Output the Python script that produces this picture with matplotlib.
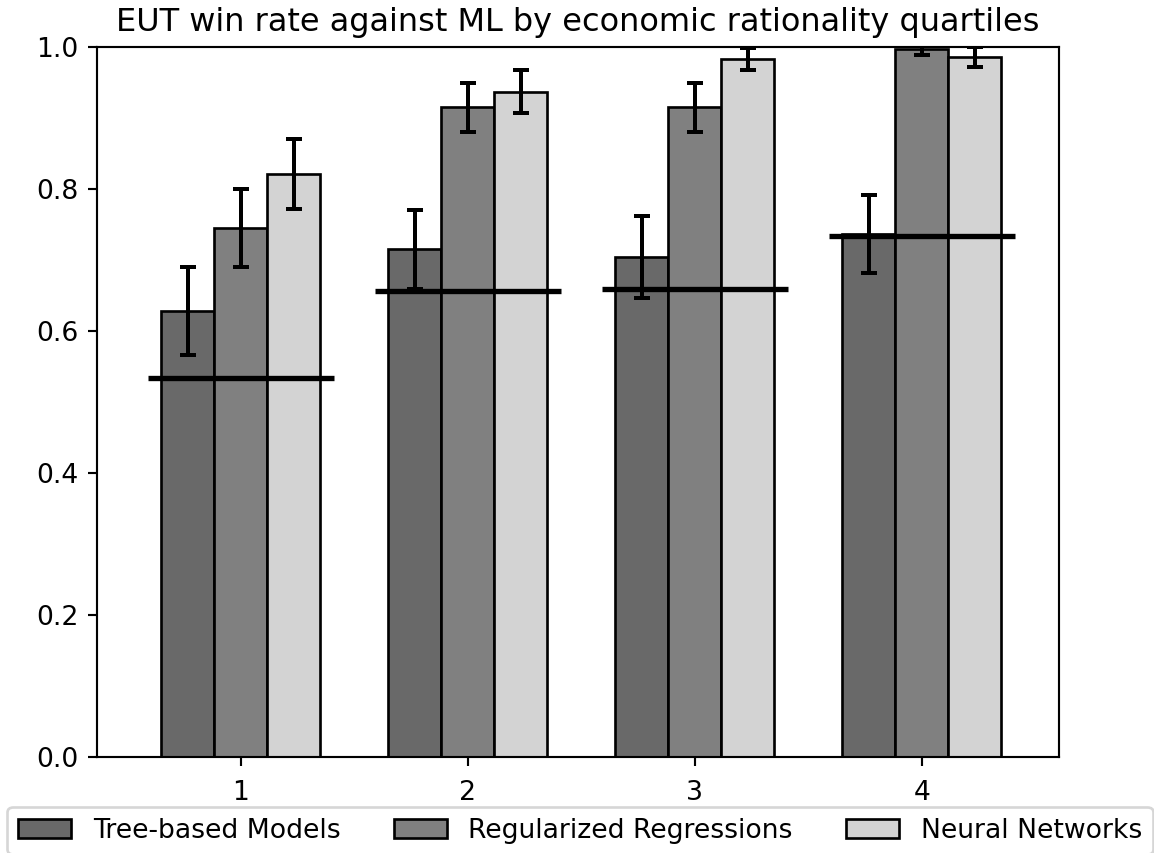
import numpy as np
import matplotlib
matplotlib.use("Agg")
from matplotlib import pyplot as plt

quartiles = [1, 2, 3, 4]
models = ["Tree-based Models", "Regularized Regressions", "Neural Networks"]
colors = ["dimgray", "gray", "lightgray"]

# win rates per model, one value per quartile
win_rate = [
    [0.628, 0.715, 0.704, 0.737],
    [0.745, 0.915, 0.915, 0.997],
    [0.821, 0.937, 0.983, 0.986],
]
# error bar half-widths
err = [
    [0.062, 0.056, 0.058, 0.055],
    [0.055, 0.035, 0.035, 0.008],
    [0.049, 0.030, 0.016, 0.014],
]
# reference level per quartile
baseline = [0.534, 0.656, 0.659, 0.734]

dpi = 192
fig = plt.figure(figsize=(1154 / dpi, 853 / dpi), dpi=dpi)
ax = fig.add_axes([97 / 1154, (853 - 757) / 853, (1059 - 97) / 1154, (757 - 47) / 853])

x = np.array(quartiles)
w = 0.7 / 3
for i, m in enumerate(models):
    ax.bar(x + (i - 1) * w, win_rate[i], w, yerr=err[i], color=colors[i],
           edgecolor="black", linewidth=1, label=m,
           error_kw=dict(ecolor="black", elinewidth=1.5, capsize=3, capthick=1.5))

for xi, b in zip(x, baseline):
    ax.hlines(b, xi - 0.41, xi + 0.41, colors="black", linewidth=2)

ax.set_xlim(0.366, 4.604)
ax.set_ylim(0, 1)
ax.set_xticks(x)
ax.tick_params(axis="x", pad=5)
ax.set_title("EUT win rate against ML by economic rationality quartiles", fontsize=12)
fig.legend(loc="upper center", bbox_to_anchor=(0.5 + 3 / 1154, 1 - 807 / 853),
           borderaxespad=0, ncol=3, fontsize=10)

fig.savefig("out.png", dpi=dpi)
